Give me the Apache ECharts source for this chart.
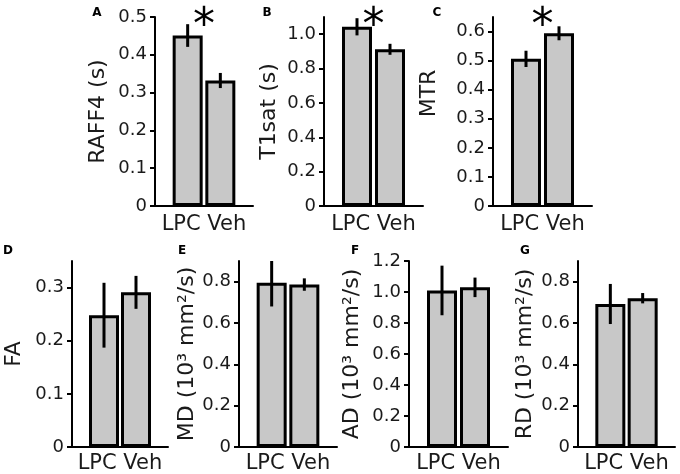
<!DOCTYPE html>
<html>
<head>
<meta charset="utf-8">
<script src="https://cdn.jsdelivr.net/npm/echarts@6/dist/echarts.min.js"></script>
<style>html,body{margin:0;padding:0;background:#fff}#c{width:680px;height:474px}</style>
</head>
<body>
<div id="c"></div>
<script>
// ---- data ----
const categories = ['LPC', 'Veh'];
const panelLetters = ['A', 'B', 'C', 'D', 'E', 'F', 'G'];
const yNames = ['RAFF4 (s)', 'T1sat (s)', 'MTR', 'FA', 'MD (10³ mm²/s)', 'AD (10³ mm²/s)', 'RD (10³ mm²/s)'];
const raff4Mean = [0.451, 0.332];
const raff4Err  = [0.030, 0.020];
const t1satMean = [1.043, 0.912];
const t1satErr  = [0.050, 0.032];
const mtrMean   = [0.506, 0.594];
const mtrErr    = [0.028, 0.024];
const faMean    = [0.248, 0.291];
const faErr     = [0.061, 0.031];
const mdMean    = [0.795, 0.786];
const mdErr     = [0.115, 0.030];
const adMean    = [1.010, 1.030];
const adErr     = [0.160, 0.063];
const rdMean    = [0.692, 0.720];
const rdErr     = [0.097, 0.025];
const significant = [true, true, true, false, false, false, false];
const ticksA = [0, 0.1, 0.2, 0.3, 0.4, 0.5];
const ticksB = [0, 0.2, 0.4, 0.6, 0.8, 1.0];
const ticksC = [0, 0.1, 0.2, 0.3, 0.4, 0.5, 0.6];
const ticksD = [0, 0.1, 0.2, 0.3];
const ticksE = [0, 0.2, 0.4, 0.6, 0.8];
const ticksF = [0, 0.2, 0.4, 0.6, 0.8, 1.0, 1.2];
const ticksG = [0, 0.2, 0.4, 0.6, 0.8];
const yMax = [0.5, 1.1, 0.65, 0.35, 0.9, 1.2, 0.9];

const means = [raff4Mean, t1satMean, mtrMean, faMean, mdMean, adMean, rdMean];
const errs = [raff4Err, t1satErr, mtrErr, faErr, mdErr, adErr, rdErr];
const ticks = [ticksA, ticksB, ticksC, ticksD, ticksE, ticksF, ticksG];

// ---- layout ----
const gridBoxes = [
  {left: 155, top: 17, width: 98, height: 189},
  {left: 324, top: 17, width: 99, height: 189},
  {left: 493, top: 17, width: 99, height: 189},
  {left: 72,  top: 261, width: 96, height: 188},
  {left: 239, top: 261, width: 98, height: 188},
  {left: 409, top: 261, width: 99, height: 188},
  {left: 578, top: 261, width: 97, height: 188}
];
const xLabelMargins = [8, 8, 8, 6, 6, 6, 6];
const nameGaps = [46, 44, 53, 47, 41, 46, 42];
const namePads = [0, 0, 36, 0, 0, 0, 0];
const letterPos = [[97,13],[267,13],[437,13],[8,251],[182,251],[355,251],[525,251]];

const FONT = 'DejaVu Sans';
const grid = [], xAxis = [], yAxis = [], series = [], graphic = [];

for (let i = 0; i < 7; i++) {
  grid.push(Object.assign({containLabel: false}, gridBoxes[i]));
  xAxis.push({
    type: 'value', gridIndex: i, min: 0, max: 3,
    splitLine: {show: false},
    axisLine: {show: true, onZero: false, lineStyle: {color: '#000', width: 2}},
    axisTick: {show: false},
    axisLabel: {
      // both group labels written as one line centred between the two bars
      customValues: [1.5], margin: xLabelMargins[i], hideOverlap: false,
      formatter: () => categories.join(' '),
      fontFamily: FONT, fontSize: 21, color: '#1a1a1a'
    }
  });
  yAxis.push({
    type: 'value', gridIndex: i, min: 0, max: yMax[i],
    name: yNames[i], nameLocation: 'middle', nameGap: nameGaps[i],
    nameTextStyle: {fontFamily: FONT, fontSize: 22, color: '#1a1a1a',
                    padding: [0, 0, 0, namePads[i]]},
    splitLine: {show: false},
    axisLine: {show: true, lineStyle: {color: '#000', width: 2}},
    axisTick: {show: true, customValues: ticks[i], length: 5, lineStyle: {color: '#000', width: 2}},
    axisLabel: {
      customValues: ticks[i], margin: 8,
      formatter: v => v === 0 ? '0' : v.toFixed(1),
      fontFamily: FONT, fontSize: 18, color: '#1a1a1a'
    }
  });
  series.push({
    type: 'bar', xAxisIndex: i, yAxisIndex: i, barWidth: 30,
    itemStyle: {color: '#c8c8c8', borderColor: '#000', borderWidth: 3},
    data: means[i].map((v, k) => [k + 1, v]),
    silent: true, z: 2
  });
  series.push({
    type: 'custom', xAxisIndex: i, yAxisIndex: i, clip: true, z: 3,
    data: means[i].map((v, k) => [k + 1, v, errs[i][k]]),
    renderItem: (params, api) => {
      const x = api.value(0), m = api.value(1), e = api.value(2);
      const p1 = api.coord([x, m + e]);
      const p2 = api.coord([x, m - e]);
      return {type: 'line', shape: {x1: p1[0], y1: p1[1], x2: p2[0], y2: p2[1]},
              style: {stroke: '#000', lineWidth: 3}};
    }
  });
  if (significant[i]) {
    series.push({
      type: 'custom', xAxisIndex: i, yAxisIndex: i, clip: false, z: 4,
      data: [[1.5, yMax[i]]],
      renderItem: (params, api) => {
        const p = api.coord([api.value(0), api.value(1)]);
        return {type: 'text', x: p[0], y: p[1] + 11,
                style: {text: '*', fontFamily: FONT, fontSize: 44, fill: '#000',
                        align: 'center', verticalAlign: 'middle'}};
      }
    });
  }
  graphic.push({
    type: 'text', x: letterPos[i][0], y: letterPos[i][1],
    style: {text: panelLetters[i], fontFamily: FONT, fontWeight: 'bold', fontSize: 12,
            fill: '#000', align: 'center', verticalAlign: 'middle'}
  });
}

const chart = echarts.init(document.getElementById('c'), null, {renderer: 'canvas'});
chart.setOption({animation: false, backgroundColor: '#fff', grid, xAxis, yAxis, series, graphic});
</script>
</body>
</html>
